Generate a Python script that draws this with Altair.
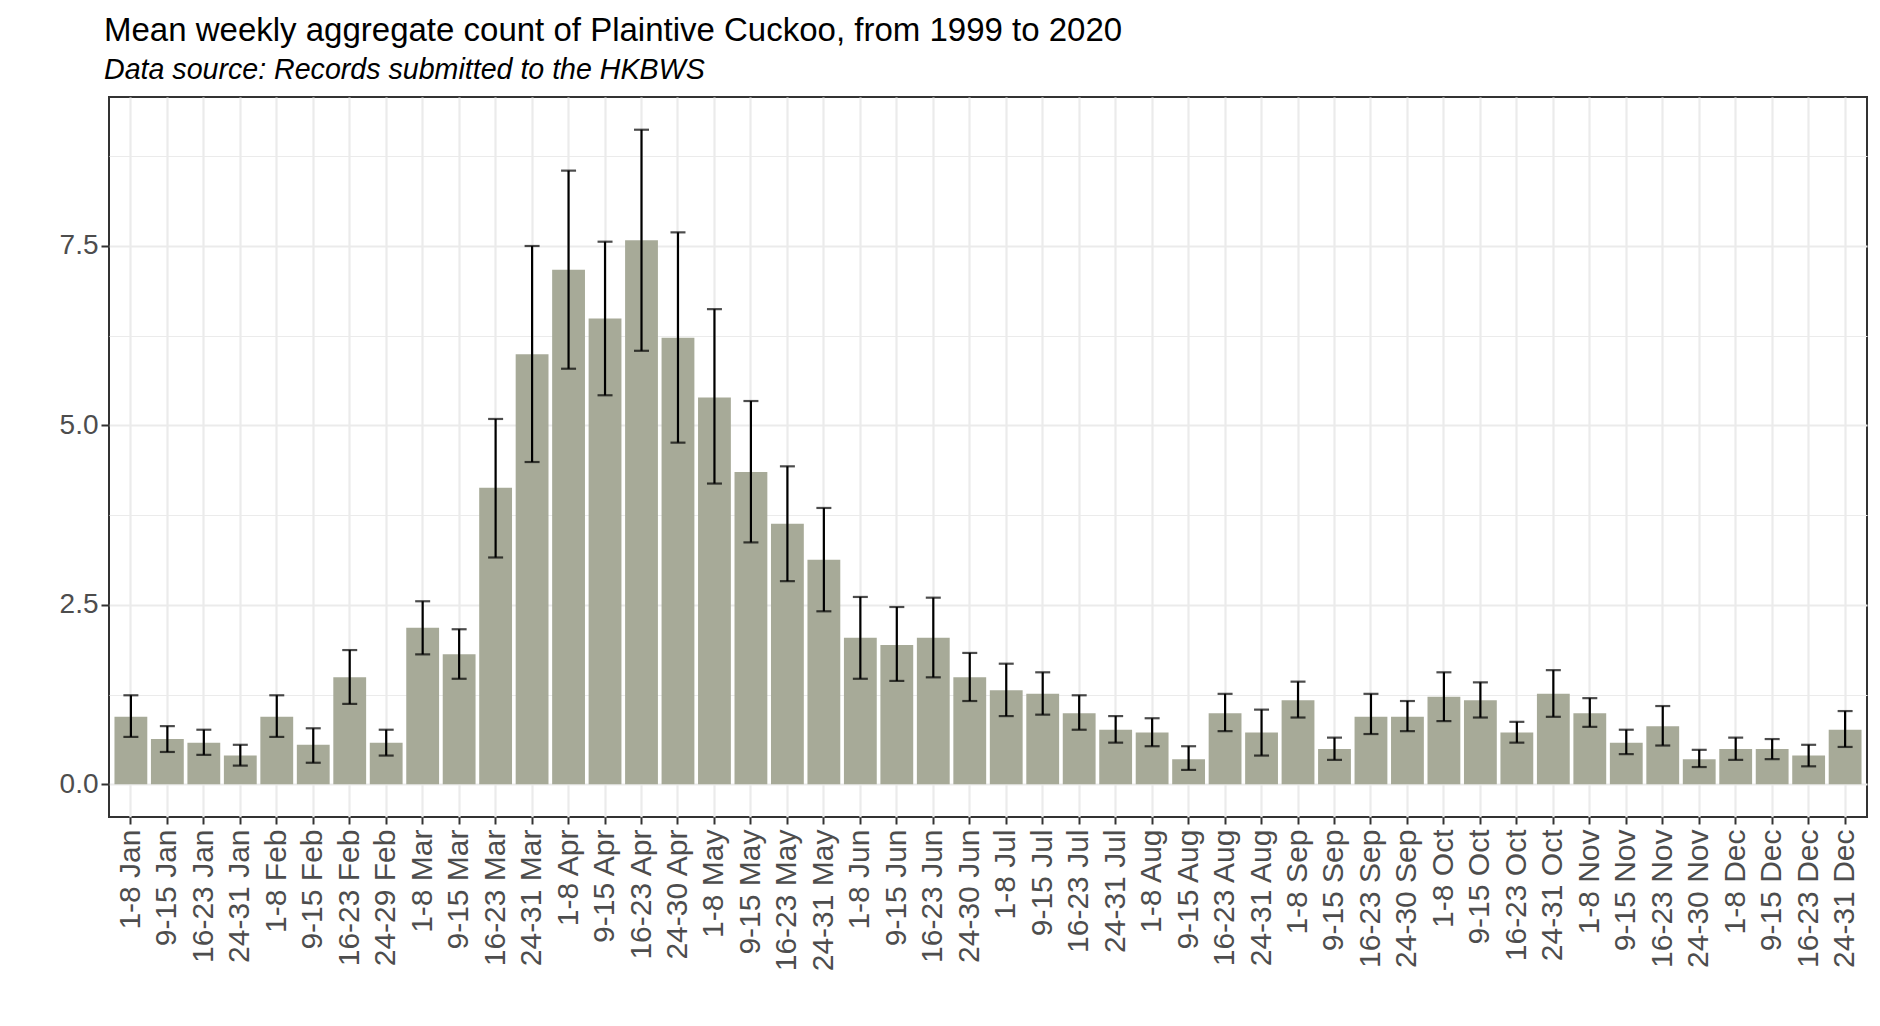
import altair as alt
import pandas as pd

weeks = ["1-8 Jan", "9-15 Jan", "16-23 Jan", "24-31 Jan",
         "1-8 Feb", "9-15 Feb", "16-23 Feb", "24-29 Feb",
         "1-8 Mar", "9-15 Mar", "16-23 Mar", "24-31 Mar",
         "1-8 Apr", "9-15 Apr", "16-23 Apr", "24-30 Apr",
         "1-8 May", "9-15 May", "16-23 May", "24-31 May",
         "1-8 Jun", "9-15 Jun", "16-23 Jun", "24-30 Jun",
         "1-8 Jul", "9-15 Jul", "16-23 Jul", "24-31 Jul",
         "1-8 Aug", "9-15 Aug", "16-23 Aug", "24-31 Aug",
         "1-8 Sep", "9-15 Sep", "16-23 Sep", "24-30 Sep",
         "1-8 Oct", "9-15 Oct", "16-23 Oct", "24-31 Oct",
         "1-8 Nov", "9-15 Nov", "16-23 Nov", "24-30 Nov",
         "1-8 Dec", "9-15 Dec", "16-23 Dec", "24-31 Dec"]

mean_count = [0.94, 0.63, 0.58, 0.40, 0.94, 0.55, 1.49, 0.58,
              2.18, 1.81, 4.13, 5.99, 7.17, 6.49, 7.58, 6.22,
              5.39, 4.35, 3.63, 3.13, 2.04, 1.94, 2.04, 1.49,
              1.31, 1.26, 0.99, 0.76, 0.72, 0.35, 0.99, 0.72,
              1.17, 0.49, 0.94, 0.94, 1.22, 1.17, 0.72, 1.26,
              0.99, 0.58, 0.81, 0.35, 0.49, 0.49, 0.40, 0.76]

err_low = [0.66, 0.45, 0.41, 0.26, 0.66, 0.30, 1.12, 0.40,
           1.81, 1.47, 3.16, 4.49, 5.79, 5.42, 6.04, 4.76,
           4.19, 3.37, 2.83, 2.41, 1.47, 1.44, 1.49, 1.16,
           0.95, 0.97, 0.76, 0.58, 0.53, 0.20, 0.74, 0.40,
           0.93, 0.34, 0.70, 0.74, 0.88, 0.93, 0.58, 0.94,
           0.80, 0.42, 0.54, 0.24, 0.34, 0.35, 0.25, 0.52]

err_high = [1.24, 0.81, 0.76, 0.55, 1.24, 0.78, 1.87, 0.76,
            2.55, 2.16, 5.09, 7.50, 8.55, 7.56, 9.12, 7.69,
            6.62, 5.34, 4.43, 3.85, 2.61, 2.47, 2.60, 1.83,
            1.68, 1.56, 1.24, 0.95, 0.92, 0.53, 1.26, 1.04,
            1.43, 0.65, 1.26, 1.16, 1.56, 1.42, 0.87, 1.59,
            1.20, 0.76, 1.09, 0.48, 0.65, 0.63, 0.55, 1.02]

y_breaks = [0, 1.25, 2.5, 3.75, 5, 6.25, 7.5, 8.75]

df = pd.DataFrame({"week": weeks, "mean": mean_count, "lo": err_low, "hi": err_high})

FONT = "Liberation Sans"
GRID = "#EBEBEB"

xscale = alt.Scale(paddingInner=0.1, paddingOuter=0.15)
xaxis = alt.Axis(title=None, labelAngle=270, labelFont=FONT, labelFontSize=30,
                 labelColor="#4D4D4D", labelPadding=5, tickColor="#333333",
                 tickWidth=2, tickSize=7, domain=False, grid=True, gridColor=GRID,
                 gridWidth=2.2, bandPosition=0.5, labelAlign="right",
                 labelBaseline="middle")

yscale = alt.Scale(domain=[-0.456, 9.576], nice=False, zero=False)
yaxis = alt.Axis(title=None, values=y_breaks, labelFont=FONT, labelFontSize=28,
                 labelColor="#4D4D4D", labelPadding=3, tickColor="#333333",
                 tickWidth=2, tickSize=8, domain=False, grid=True, gridColor=GRID,
                 labelExpr="datum.value % 2.5 == 0 ? format(datum.value, '.1f') : ''",
                 gridWidth={"condition": {"test": "datum.value % 2.5 != 0", "value": 1.1}, "value": 2.2},
                 tickOpacity={"condition": {"test": "datum.value % 2.5 != 0", "value": 0}, "value": 1})

base = alt.Chart(df).encode(
    x=alt.X("week:N", sort=weeks, scale=xscale, axis=xaxis)
)

bars = base.mark_bar(color="#A7AA98").encode(
    y=alt.Y("mean:Q", scale=yscale, axis=yaxis)
)

rules = base.mark_rule(color="black", strokeWidth=2.2).encode(
    y=alt.Y("lo:Q", scale=yscale, axis=yaxis),
    y2="hi:Q"
)

cap_lo = base.mark_tick(color="black", thickness=2.2, size=15).encode(
    y=alt.Y("lo:Q", scale=yscale, axis=yaxis)
)
cap_hi = base.mark_tick(color="black", thickness=2.2, size=15).encode(
    y=alt.Y("hi:Q", scale=yscale, axis=yaxis)
)

chart = alt.layer(bars, rules, cap_lo, cap_hi).properties(
    width=1758,
    height=720,
    title=alt.TitleParams(
        text="Mean weekly aggregate count of Plaintive Cuckoo, from 1999 to 2020",
        subtitle="Data source: Records submitted to the HKBWS",
        anchor="start", frame="group", font=FONT, fontSize=33, fontWeight="normal",
        color="black", subtitleFont=FONT, subtitleFontSize=28.6,
        subtitleFontStyle="italic", subtitleColor="black", subtitlePadding=8,
        offset=12, dx=-5
    ),
    autosize=alt.AutoSizeParams(type="none"),
    padding={"left": 101, "top": 89, "right": 5, "bottom": 200}
).configure_view(
    stroke="#333333", strokeWidth=2, fill="white"
)

chart.save("out.html", embed_options={"renderer": "svg", "actions": False})
